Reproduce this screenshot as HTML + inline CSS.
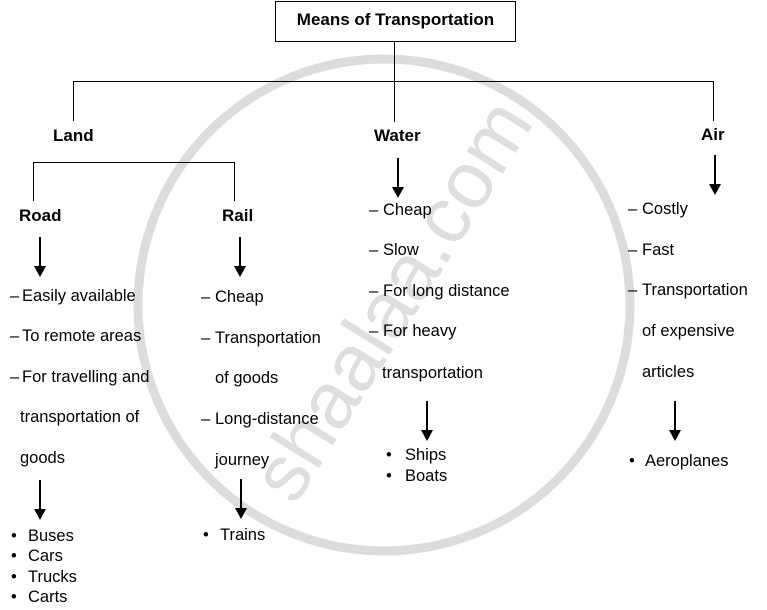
<!DOCTYPE html>
<html><head><meta charset="utf-8"><style>
html,body{margin:0;padding:0;background:#fff;}
body{width:767px;height:610px;position:relative;overflow:hidden;font-family:"Liberation Sans",Arial,sans-serif;color:#000;}
.t{position:absolute;font-size:16.5px;line-height:18px;white-space:nowrap;}
.b{font-weight:bold;font-size:17px;}
.d{display:inline-block;}
.wm{position:absolute;left:392px;top:300px;font-size:80px;color:#dedede;transform:translate(-50%,-50%) rotate(-58deg);white-space:nowrap;line-height:1;}
</style></head><body>
<svg width="767" height="610" style="position:absolute;left:0;top:0">
<circle cx="384" cy="305" r="246" fill="none" stroke="#dcdcdc" stroke-width="9"/>
</svg>
<div class="wm">shaalaa.com</div>
<svg width="767" height="610" style="position:absolute;left:0;top:0">
<g stroke="#000" stroke-width="1" fill="none">
<rect x="275.5" y="1.5" width="240" height="40"/>
<line x1="394.5" y1="41" x2="394.5" y2="122"/>
<line x1="73" y1="81.5" x2="714" y2="81.5"/>
<line x1="73.5" y1="81" x2="73.5" y2="121"/>
<line x1="713.5" y1="81" x2="713.5" y2="121"/>
<line x1="33" y1="162.5" x2="235" y2="162.5"/>
<line x1="33.5" y1="162" x2="33.5" y2="201"/>
<line x1="234.5" y1="162" x2="234.5" y2="201"/>
</g>
<g stroke="#000" stroke-width="2">
<line x1="40" y1="237" x2="40" y2="268"/>
<line x1="240" y1="237" x2="240" y2="268"/>
<line x1="398" y1="158" x2="398" y2="189"/>
<line x1="715" y1="155" x2="715" y2="186"/>
<line x1="40" y1="480" x2="40" y2="511"/>
<line x1="241" y1="479" x2="241" y2="510"/>
<line x1="427" y1="401" x2="427" y2="432"/>
<line x1="675" y1="401" x2="675" y2="432"/>
</g>
<g fill="#000">
<polygon points="34,266 46,266 40,277"/>
<polygon points="234,266 246,266 240,277"/>
<polygon points="392,187 404,187 398,198"/>
<polygon points="709,184 721,184 715,195"/>
<polygon points="34,509 46,509 40,520"/>
<polygon points="235,508 247,508 241,519"/>
<polygon points="421,430 433,430 427,441"/>
<polygon points="669,430 681,430 675,441"/>
</g>
</svg>
<div class="t b" style="left:275px;width:241px;text-align:center;top:11px;">Means of Transportation</div>
<div class="t b" style="left:53px;top:127px;">Land</div>
<div class="t b" style="left:374px;top:127px;">Water</div>
<div class="t b" style="left:701px;top:126px;">Air</div>
<div class="t b" style="left:19px;top:207px;">Road</div>
<div class="t b" style="left:222px;top:207px;">Rail</div>

<div class="t" style="left:10px;top:287px;"><span class="d" style="width:12px">–</span>Easily available</div>
<div class="t" style="left:10px;top:327px;"><span class="d" style="width:12px">–</span>To remote areas</div>
<div class="t" style="left:10px;top:368px;"><span class="d" style="width:12px">–</span>For travelling and</div>
<div class="t" style="left:20px;top:408px;">transportation of</div>
<div class="t" style="left:20px;top:449px;">goods</div>
<div class="t" style="left:11px;top:527px;"><span class="d" style="width:17px">•</span>Buses</div>
<div class="t" style="left:11px;top:547px;"><span class="d" style="width:17px">•</span>Cars</div>
<div class="t" style="left:11px;top:568px;"><span class="d" style="width:17px">•</span>Trucks</div>
<div class="t" style="left:11px;top:588px;"><span class="d" style="width:17px">•</span>Carts</div>

<div class="t" style="left:201px;top:288px;"><span class="d" style="width:14px">–</span>Cheap</div>
<div class="t" style="left:201px;top:329px;"><span class="d" style="width:14px">–</span>Transportation</div>
<div class="t" style="left:215px;top:369px;">of goods</div>
<div class="t" style="left:201px;top:410px;"><span class="d" style="width:14px">–</span>Long-distance</div>
<div class="t" style="left:215px;top:451px;">journey</div>
<div class="t" style="left:203px;top:526px;"><span class="d" style="width:17px">•</span>Trains</div>

<div class="t" style="left:369px;top:201px;"><span class="d" style="width:14px">–</span>Cheap</div>
<div class="t" style="left:369px;top:241px;"><span class="d" style="width:14px">–</span>Slow</div>
<div class="t" style="left:369px;top:282px;"><span class="d" style="width:14px">–</span>For long distance</div>
<div class="t" style="left:369px;top:322px;"><span class="d" style="width:14px">–</span>For heavy</div>
<div class="t" style="left:382px;top:364px;">transportation</div>
<div class="t" style="left:386px;top:446px;"><span class="d" style="width:19px">•</span>Ships</div>
<div class="t" style="left:386px;top:467px;"><span class="d" style="width:19px">•</span>Boats</div>

<div class="t" style="left:628px;top:200px;"><span class="d" style="width:14px">–</span>Costly</div>
<div class="t" style="left:628px;top:241px;"><span class="d" style="width:14px">–</span>Fast</div>
<div class="t" style="left:628px;top:281px;"><span class="d" style="width:14px">–</span>Transportation</div>
<div class="t" style="left:642px;top:322px;">of expensive</div>
<div class="t" style="left:642px;top:363px;">articles</div>
<div class="t" style="left:629px;top:452px;"><span class="d" style="width:16px">•</span>Aeroplanes</div>
</body></html>
